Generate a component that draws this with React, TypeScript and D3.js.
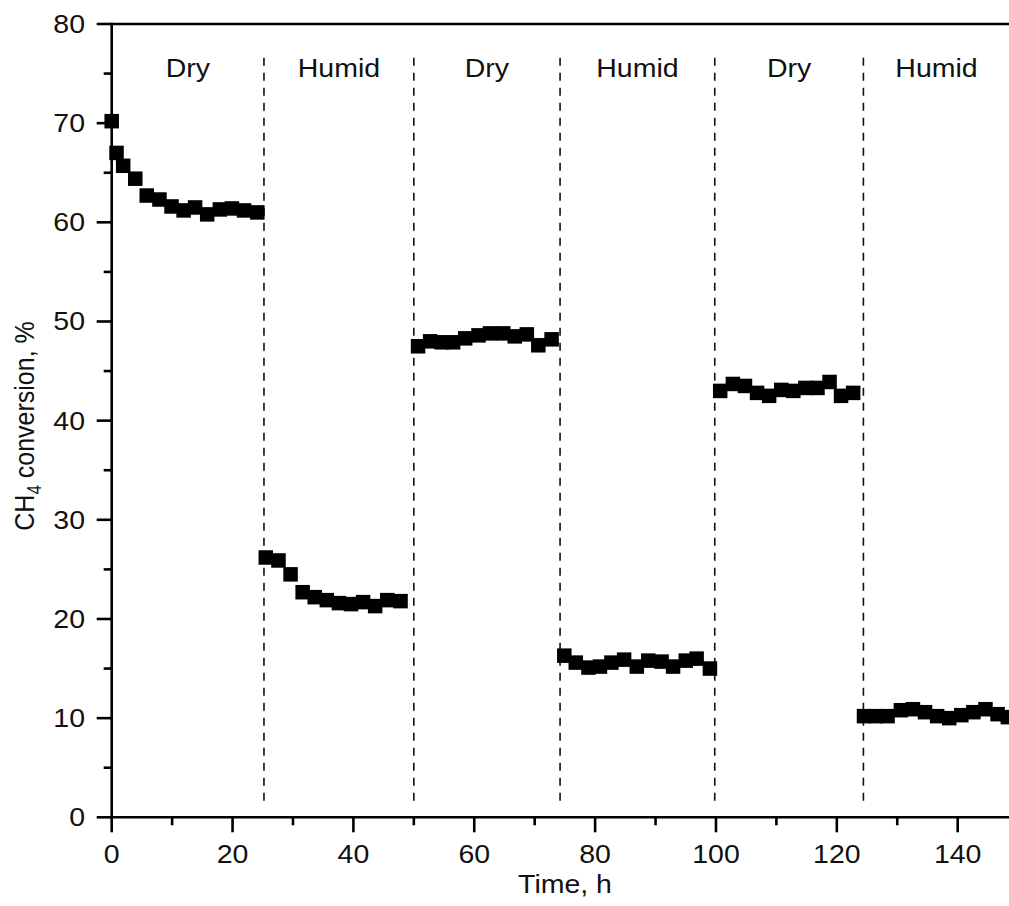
import { useEffect, useRef } from 'react';
import * as d3 from 'd3';

// CH4 conversion, %, one array pair per period
const dry1Time = [0, 0.8, 1.9, 3.9, 5.8, 7.9, 9.9, 11.9, 13.8, 15.8, 17.9, 19.9, 21.9, 24.1];
const dry1Conv = [70.2, 67.0, 65.7, 64.4, 62.7, 62.3, 61.6, 61.2, 61.5, 60.8, 61.3, 61.4, 61.2, 61.0];

const humid1Time = [25.5, 27.6, 29.6, 31.6, 33.6, 35.6, 37.6, 39.6, 41.6, 43.6, 45.6, 47.8];
const humid1Conv = [26.2, 25.9, 24.5, 22.7, 22.2, 21.9, 21.6, 21.5, 21.7, 21.3, 21.9, 21.8];

const dry2Time = [50.7, 52.7, 54.6, 56.5, 58.5, 60.7, 62.6, 64.8, 66.7, 68.7, 70.6, 72.8];
const dry2Conv = [47.5, 48.0, 47.9, 47.9, 48.3, 48.6, 48.8, 48.8, 48.5, 48.7, 47.6, 48.2];

const humid2Time = [74.9, 76.8, 78.9, 80.8, 82.7, 84.8, 86.9, 88.8, 91.0, 92.9, 95.0, 96.8, 99.0];
const humid2Conv = [16.3, 15.6, 15.1, 15.2, 15.6, 15.9, 15.2, 15.8, 15.7, 15.2, 15.8, 16.0, 15.0];

const dry3Time = [100.7, 102.8, 104.8, 106.8, 108.8, 110.8, 112.8, 114.8, 116.8, 118.8, 120.7, 122.7];
const dry3Conv = [43.0, 43.7, 43.5, 42.8, 42.5, 43.1, 43.0, 43.3, 43.3, 43.9, 42.5, 42.8];

const humid3Time = [124.5, 126.4, 128.4, 130.6, 132.6, 134.6, 136.6, 138.6, 140.6, 142.6, 144.6, 146.6, 148.3];
const humid3Conv = [10.2, 10.2, 10.2, 10.8, 10.9, 10.6, 10.2, 10.0, 10.3, 10.6, 10.9, 10.4, 10.1];

// period switches (dashed lines) and the labels above each period
const switchTimes = [25.2, 50, 74.2, 99.8, 124.4];
const periodLabels = ['Dry', 'Humid', 'Dry', 'Humid', 'Dry', 'Humid'];
const periodCenters = [12.6, 37.6, 62.1, 87, 112.1, 136.5];

const xTicks = [0, 20, 40, 60, 80, 100, 120, 140];
const xMinorTicks = [10, 30, 50, 70, 90, 110, 130, 150];
const yTicks = [0, 10, 20, 30, 40, 50, 60, 70, 80];
const yMinorTicks = [5, 15, 25, 35, 45, 55, 65, 75];

const FONT = '"Liberation Sans", Arial, Helvetica, sans-serif';
// the original figure is a little stretched sideways
const STRETCH = 1.14;

export default function App() {
  const svgRef = useRef<SVGSVGElement | null>(null);

  useEffect(() => {
    if (!svgRef.current) return;
    const svg = d3.select(svgRef.current);
    svg.selectAll('*').remove();

    const width = 1009;
    const height = 906;

    const x = d3.scaleLinear().domain([0, 150]).range([111.7, 1018.1]);
    const y = d3.scaleLinear().domain([0, 80]).range([817.3, 24]);

    const series = [
      [dry1Time, dry1Conv],
      [humid1Time, humid1Conv],
      [dry2Time, dry2Conv],
      [humid2Time, humid2Conv],
      [dry3Time, dry3Conv],
      [humid3Time, humid3Conv],
    ];
    const points = series.flatMap(([t, v]) => t.map((tt, i) => ({ t: tt, v: v[i] })));

    const at = (px: number, py: number) => `translate(${px},${py}) scale(${STRETCH},1)`;

    // dashed separators
    svg.append('g')
      .selectAll('line')
      .data(switchTimes)
      .join('line')
      .attr('x1', d => x(d))
      .attr('x2', d => x(d))
      .attr('y1', y(76.6))
      .attr('y2', y(1.5))
      .attr('stroke', '#111')
      .attr('stroke-width', 1.6)
      .attr('stroke-dasharray', '8,7');

    // period labels
    svg.append('g')
      .selectAll('text')
      .data(periodLabels)
      .join('text')
      .attr('transform', (_, i) => at(x(periodCenters[i]), 77))
      .attr('text-anchor', 'middle')
      .attr('font-family', FONT)
      .attr('font-size', 25)
      .attr('fill', '#111')
      .text(d => d);

    // markers
    const size = 14.5;
    svg.append('g')
      .selectAll('rect')
      .data(points)
      .join('rect')
      .attr('x', d => x(d.t) - size / 2)
      .attr('y', d => y(d.v) - size / 2)
      .attr('width', size)
      .attr('height', size)
      .attr('fill', '#000');

    // axes
    const axis = svg.append('g').attr('stroke', '#000').attr('stroke-width', 2.6);
    axis.append('line')
      .attr('x1', x(0)).attr('x2', width)
      .attr('y1', y(0)).attr('y2', y(0));
    axis.append('line')
      .attr('x1', x(0)).attr('x2', width)
      .attr('y1', y(80)).attr('y2', y(80));
    axis.append('line')
      .attr('x1', x(0)).attr('x2', x(0))
      .attr('y1', y(80) - 1.3).attr('y2', y(0) + 1.3);

    axis.selectAll('.xt')
      .data(xTicks)
      .join('line')
      .attr('class', 'xt')
      .attr('x1', d => x(d)).attr('x2', d => x(d))
      .attr('y1', y(0)).attr('y2', y(0) + 15);
    axis.selectAll('.xm')
      .data(xMinorTicks)
      .join('line')
      .attr('class', 'xm')
      .attr('x1', d => x(d)).attr('x2', d => x(d))
      .attr('y1', y(0)).attr('y2', y(0) + 8);
    axis.selectAll('.yt')
      .data(yTicks)
      .join('line')
      .attr('class', 'yt')
      .attr('x1', x(0) - 15).attr('x2', x(0))
      .attr('y1', d => y(d)).attr('y2', d => y(d));
    axis.selectAll('.ym')
      .data(yMinorTicks)
      .join('line')
      .attr('class', 'ym')
      .attr('x1', x(0) - 8).attr('x2', x(0))
      .attr('y1', d => y(d)).attr('y2', d => y(d));

    // tick labels
    svg.append('g')
      .selectAll('text')
      .data(xTicks)
      .join('text')
      .attr('transform', d => at(x(d), 863))
      .attr('text-anchor', 'middle')
      .attr('font-family', FONT)
      .attr('font-size', 25)
      .attr('fill', '#111')
      .text(d => d);

    svg.append('g')
      .selectAll('text')
      .data(yTicks)
      .join('text')
      .attr('transform', d => at(85, y(d) + 9))
      .attr('text-anchor', 'end')
      .attr('font-family', FONT)
      .attr('font-size', 25)
      .attr('fill', '#111')
      .text(d => d);

    // axis titles
    svg.append('text')
      .attr('transform', at(565, 893))
      .attr('text-anchor', 'middle')
      .attr('font-family', FONT)
      .attr('font-size', 25)
      .attr('fill', '#111')
      .text('Time, h');

    const yt = svg.append('text')
      .attr('transform', `translate(34, 426) scale(${STRETCH},1) rotate(-90)`)
      .attr('text-anchor', 'middle')
      .attr('font-family', FONT)
      .attr('font-size', 25)
      .attr('fill', '#111');
    yt.append('tspan').text('CH');
    yt.append('tspan').attr('font-size', 17).attr('dy', 6).text('4');
    yt.append('tspan').attr('dy', -6).text(' conversion, %');

    svg.attr('width', width).attr('height', height);
  }, []);

  return (
    <svg
      ref={svgRef}
      width={1009}
      height={906}
      style={{ position: 'absolute', left: 0, top: 0, background: '#fff' }}
    />
  );
}
